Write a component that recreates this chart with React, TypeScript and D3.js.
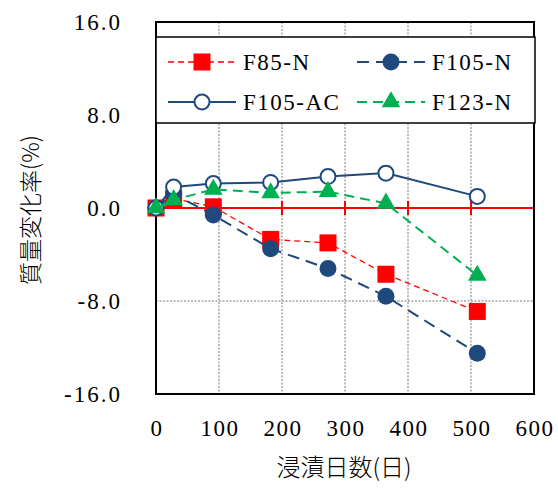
import React, { useEffect, useRef } from "react";
import * as d3 from "d3";

// data
const days = [0, 28, 91, 182, 273, 365, 510];
const f85N = [0, 0.8, 0.1, -2.7, -3.0, -5.7, -8.9];
const f105N = [0, 1.2, -0.6, -3.5, -5.2, -7.6, -12.5];
const f105AC = [0, 1.8, 2.1, 2.2, 2.7, 3.0, 1.0];
const f123N = [0, 0.7, 1.6, 1.3, 1.4, 0.4, -5.8];

const xTicks = [0, 100, 200, 300, 400, 500, 600];
const yTicks = [16, 8, 0, -8, -16];

const seriesNames = ["F85-N", "F105-N", "F105-AC", "F123-N"];

function App() {
  const ref = useRef<SVGSVGElement>(null);

  useEffect(() => {
    drawChart();
  }, []);

  const drawChart = () => {
    const w = 558;
    const h = 491;
    const left = 156,
      right = 534,
      top = 22,
      bottom = 394;

    const svg = d3.select(ref.current);
    svg.selectAll("*").remove();

    const x = d3.scaleLinear().domain([0, 600]).range([left, right]);
    const y = d3.scaleLinear().domain([-16, 16]).range([bottom, top]);

    const serif = "'Liberation Serif', 'DejaVu Serif', serif";
    const cjk = "'Noto Sans CJK JP', sans-serif";

    svg.append("rect").attr("width", w).attr("height", h).attr("fill", "#fff");

    // grid
    const g = svg.append("g");
    g.selectAll("line.vg")
      .data(xTicks.slice(1, -1))
      .enter()
      .append("line")
      .attr("x1", (d) => x(d))
      .attr("x2", (d) => x(d))
      .attr("y1", top)
      .attr("y2", bottom)
      .attr("stroke", "#555")
      .attr("stroke-width", 0.8)
      .attr("stroke-dasharray", "2,1.5");
    g.selectAll("line.hg")
      .data([8, -8])
      .enter()
      .append("line")
      .attr("x1", left)
      .attr("x2", right)
      .attr("y1", (d) => y(d))
      .attr("y2", (d) => y(d))
      .attr("stroke", "#555")
      .attr("stroke-width", 0.8)
      .attr("stroke-dasharray", "2,1.5");

    // zero axis in red with cross ticks
    svg.append("line")
      .attr("x1", left)
      .attr("x2", right)
      .attr("y1", y(0))
      .attr("y2", y(0))
      .attr("stroke", "#ff0000")
      .attr("stroke-width", 2);
    svg.selectAll("line.rt")
      .data(xTicks.slice(1))
      .enter()
      .append("line")
      .attr("x1", (d) => x(d))
      .attr("x2", (d) => x(d))
      .attr("y1", y(0) - 7)
      .attr("y2", y(0) + 7)
      .attr("stroke", "#ff0000")
      .attr("stroke-width", 2);

    // frame
    svg.append("rect")
      .attr("x", left)
      .attr("y", top)
      .attr("width", right - left)
      .attr("height", bottom - top)
      .attr("fill", "none")
      .attr("stroke", "#000")
      .attr("stroke-width", 2);

    // tick labels
    svg.selectAll("text.yl")
      .data(yTicks)
      .enter()
      .append("text")
      .text((d) => d.toFixed(1))
      .attr("x", 122)
      .attr("y", (d) => y(d))
      .attr("dy", "0.35em")
      .attr("text-anchor", "end")
      .style("font-family", serif)
      .style("font-size", "23px")
      .style("letter-spacing", "2px")
      .attr("fill", "#000");

    svg.selectAll("text.xl")
      .data(xTicks)
      .enter()
      .append("text")
      .text((d) => d)
      .attr("x", (d) => x(d) + 1)
      .attr("y", 428)
      .attr("dy", "0.35em")
      .attr("text-anchor", "middle")
      .style("font-family", serif)
      .style("font-size", "23px")
      .style("letter-spacing", "1.5px")
      .attr("fill", "#000");

    // axis titles
    svg.append("text")
      .text("浸漬日数(日)")
      .attr("x", 344)
      .attr("y", 468)
      .attr("dy", "0.35em")
      .attr("text-anchor", "middle")
      .style("font-family", cjk)
      .style("font-size", "24px")
      .style("font-weight", 300)
      .attr("fill", "#000");

    svg.append("text")
      .text("質量変化率(%)")
      .attr("transform", "translate(31,210) rotate(-90)")
      .attr("dy", "0.35em")
      .attr("text-anchor", "middle")
      .style("font-family", cjk)
      .style("font-size", "23px")
      .style("font-weight", 300)
      .attr("fill", "#000");

    const line = d3
      .line<number>()
      .x((d, i) => x(days[i]))
      .y((d) => y(d));

    const styles = [
      { data: f85N, color: "#ff0000", width: 1.3, dash: "6,4", marker: "square", fill: "#ff0000" },
      { data: f105N, color: "#1f497d", width: 2, dash: "12,7", marker: "circle", fill: "#1f497d" },
      { data: f105AC, color: "#1f497d", width: 2, dash: "none", marker: "circle", fill: "#fff" },
      { data: f123N, color: "#00b050", width: 2, dash: "10,6", marker: "triangle", fill: "#00b050" },
    ];

    const drawMarker = (sel: any, s: any, cx: number, cy: number) => {
      if (s.marker === "square") {
        sel.append("rect")
          .attr("x", cx - 8.5)
          .attr("y", cy - 8.5)
          .attr("width", 17)
          .attr("height", 17)
          .attr("fill", s.fill);
      } else if (s.marker === "circle") {
        sel.append("circle")
          .attr("cx", cx)
          .attr("cy", cy)
          .attr("r", s.fill === "#fff" ? 7.5 : 8.5)
          .attr("fill", s.fill)
          .attr("stroke", s.color)
          .attr("stroke-width", s.fill === "#fff" ? 2 : 0);
      } else {
        const sym = d3.symbol().type(d3.symbolTriangle).size(150);
        sel.append("path")
          .attr("d", sym())
          .attr("transform", `translate(${cx},${cy})`)
          .attr("fill", s.fill);
      }
    };

    styles.forEach((s) => {
      svg.append("path")
        .datum(s.data)
        .attr("d", line)
        .attr("fill", "none")
        .attr("stroke", s.color)
        .attr("stroke-width", s.width)
        .attr("stroke-dasharray", s.dash);
      const mg = svg.append("g");
      s.data.forEach((v, i) => drawMarker(mg, s, x(days[i]), y(v)));
    });

    // legend
    svg.append("rect")
      .attr("x", left)
      .attr("y", 37)
      .attr("width", right - left + 1)
      .attr("height", 86)
      .attr("fill", "#fff")
      .attr("stroke", "#000")
      .attr("stroke-width", 1.5);

    const legendPos = [
      { lx: 168, ly: 62 },
      { lx: 357, ly: 62 },
      { lx: 168, ly: 102 },
      { lx: 357, ly: 102 },
    ];
    styles.forEach((s, i) => {
      const p = legendPos[i];
      const lg = svg.append("g");
      lg.append("line")
        .attr("x1", p.lx)
        .attr("x2", p.lx + 68)
        .attr("y1", p.ly)
        .attr("y2", p.ly)
        .attr("stroke", s.color)
        .attr("stroke-width", s.width)
        .attr("stroke-dasharray", s.dash);
      drawMarker(lg, s, p.lx + 34, p.ly);
      lg.append("text")
        .text(seriesNames[i])
        .attr("x", p.lx + 75)
        .attr("y", p.ly)
        .attr("dy", "0.35em")
        .style("font-family", serif)
        .style("font-size", "23px")
        .style("letter-spacing", "1.5px")
        .attr("fill", "#000");
    });
  };

  return (
    <svg
      ref={ref}
      width={558}
      height={491}
      style={{ display: "block", position: "fixed", left: 0, top: 0 }}
    />
  );
}

export default App;
